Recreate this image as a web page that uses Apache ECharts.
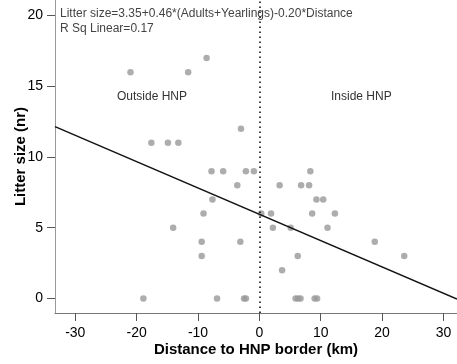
<!DOCTYPE html>
<html>
<head>
<meta charset="utf-8">
<script src="https://cdn.jsdelivr.net/npm/echarts@6/dist/echarts.min.js"></script>
<style>
  html, body { margin: 0; padding: 0; background: #fff; }
  #chart { width: 457px; height: 364px; }
</style>
</head>
<body>
<div id="chart"></div>
<script>
// Distance to the park border (km) for each litter, negative = outside the park
var distanceKm = [
  -21.0, -11.6,
  -8.6,
  -3.0,
  -17.6, -14.9, -13.2,
  -7.8, -5.9, -2.2, -0.9, 8.3,
  -3.6, 3.3, 6.8, 8.1,
  -7.65, 9.3, 10.4,
  -9.1, 0.3, 1.9, 8.6, 12.3,
  -14.05, 2.2, 5.1, 11.1,
  -9.4, -3.1, 18.8,
  -9.4, 6.25, 23.6,
  3.7,
  -18.9, -6.9, -2.5, -2.2, 5.9, 6.3, 6.7, 9.0, 9.4
];
// Litter size (number of young) for the same litters
var litterSize = [
  16, 16,
  17,
  12,
  11, 11, 11,
  9, 9, 9, 9, 9,
  8, 8, 8, 8,
  7, 7, 7,
  6, 6, 6, 6, 6,
  5, 5, 5, 5,
  4, 4, 4,
  3, 3, 3,
  2,
  0, 0, 0, 0, 0, 0, 0, 0, 0
];

// Fitted linear trend (shown at mean pack size)
var fitIntercept = 5.95;
var fitSlope = -0.186;

var xRange = [-33.3, 32.2];
var yRange = [-1.03, 21.1];
var xTicks = [-30, -20, -10, 0, 10, 20, 30];
var yTicks = [0, 5, 10, 15, 20];

var equationText = 'Litter size=3.35+0.46*(Adults+Yearlings)-0.20*Distance';
var rsqText = 'R Sq Linear=0.17';
var outsideLabel = 'Outside HNP';
var insideLabel = 'Inside HNP';
var xTitle = 'Distance to HNP border (km)';
var yTitle = 'Litter size (nr)';

var points = distanceKm.map(function (d, i) { return [d, litterSize[i]]; });
var fitLine = xRange.map(function (x) { return [x, fitIntercept + fitSlope * x]; });

var font = '"Liberation Sans", Arial, sans-serif';
var chart = echarts.init(document.getElementById('chart'), null, { renderer: 'canvas' });

chart.setOption({
  animation: false,
  backgroundColor: '#fff',
  grid: { left: 55, right: 0, top: 0, bottom: 51, containLabel: false },
  xAxis: {
    type: 'value',
    min: xRange[0],
    max: xRange[1],
    name: xTitle,
    nameLocation: 'middle',
    nameGap: 29,
    nameMoveOverlap: false,
    nameTextStyle: { fontFamily: font, fontSize: 15, fontWeight: 'bold', color: '#000' },
    axisLine: { show: true, onZero: false, lineStyle: { color: '#777', width: 1 } },
    axisTick: { show: true, customValues: xTicks, length: 8, lineStyle: { color: '#555' } },
    axisLabel: { customValues: xTicks, margin: 13, fontFamily: font, fontSize: 14, color: '#000' },
    splitLine: { show: false }
  },
  yAxis: {
    type: 'value',
    min: yRange[0],
    max: yRange[1],
    name: yTitle,
    nameLocation: 'middle',
    nameGap: 27,
    nameMoveOverlap: false,
    nameTextStyle: { fontFamily: font, fontSize: 15, fontWeight: 'bold', color: '#000' },
    axisLine: { show: true, onZero: false, lineStyle: { color: '#999', width: 1 } },
    axisTick: { show: true, customValues: yTicks, length: 8, lineStyle: { color: '#555' } },
    axisLabel: { customValues: yTicks, margin: 12, fontFamily: font, fontSize: 14, color: '#000' },
    splitLine: { show: false }
  },
  graphic: [
    { type: 'text', left: 60, top: 8, style: { text: equationText, font: '12px ' + font, fill: '#444' } },
    { type: 'text', left: 60, top: 23, style: { text: rsqText, font: '12px ' + font, fill: '#444' } },
    { type: 'text', left: 117, top: 91, style: { text: outsideLabel, font: '12px ' + font, fill: '#333' } },
    { type: 'text', left: 331, top: 91, style: { text: insideLabel, font: '12px ' + font, fill: '#333' } }
  ],
  series: [
    {
      type: 'scatter',
      data: points,
      symbol: 'circle',
      symbolSize: 6.5,
      itemStyle: { color: '#999999' },
      z: 3,
      markLine: {
        silent: true,
        symbol: ['none', 'none'],
        label: { show: false },
        lineStyle: { color: '#000', type: [1.5, 3.5], width: 1.5 },
        data: [{ xAxis: 0 }]
      }
    },
    {
      type: 'line',
      data: fitLine,
      symbol: 'none',
      lineStyle: { color: '#111', width: 1.5 },
      z: 4
    }
  ]
});
</script>
</body>
</html>
